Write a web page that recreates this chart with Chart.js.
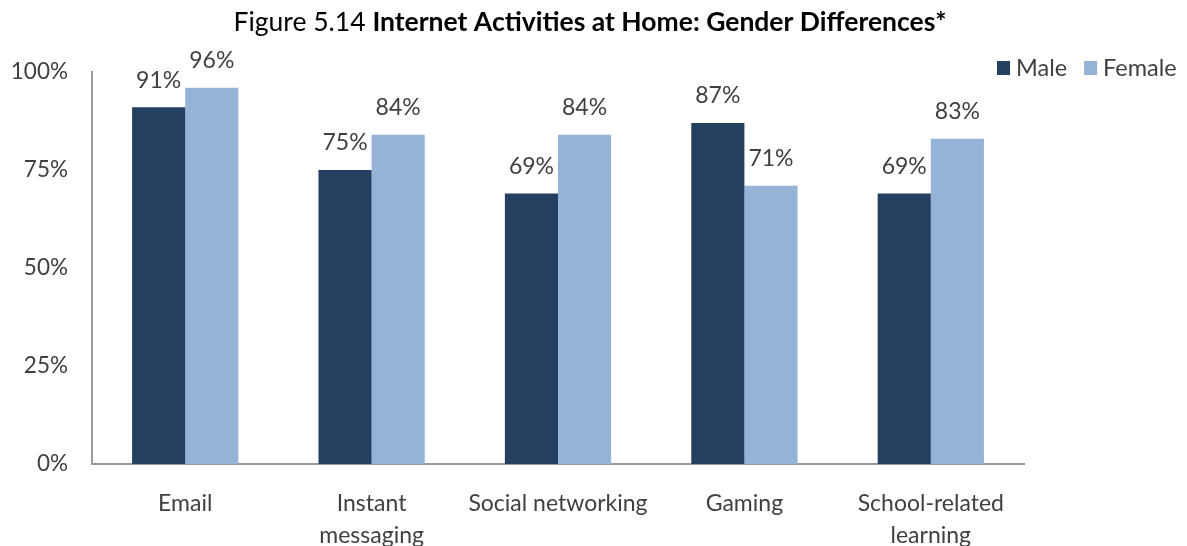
<!DOCTYPE html>
<html>
<head>
<meta charset="utf-8">
<script src="https://cdn.jsdelivr.net/npm/chart.js@4"></script>
<style>
  html, body { margin: 0; padding: 0; background: #fff; }
  #wrap { position: relative; width: 1187px; height: 546px; }
</style>
</head>
<body>
<div id="wrap"><canvas id="genderChart" width="1187" height="546"></canvas></div>
<script>
// Internet activities at home, split by gender (percent of respondents)
const activities = ['Email', ['Instant', 'messaging'], 'Social networking', 'Gaming', ['School-related', 'learning']];
const maleShare = [91, 75, 69, 87, 69];
const femaleShare = [96, 84, 84, 71, 83];
const yTicks = [0, 25, 50, 75, 100];

const FONT = 'Lato, "Open Sans", sans-serif';
const TEXT = '#404040';

// two-weight title: plain prefix, bold remainder
const titlePlugin = {
    id: 'splitTitle',
    afterDraw(chart) {
        const {ctx} = chart;
        const plain = 'Figure 5.14 ';
        const bold = 'Internet Activities at Home: Gender Differences*';
        ctx.save();
        ctx.fillStyle = '#000';
        ctx.textBaseline = 'middle';
        ctx.font = `26.5px ${FONT}`;
        const w1 = ctx.measureText(plain).width;
        ctx.font = `bold 26.5px ${FONT}`;
        const w2 = ctx.measureText(bold).width;
        const x0 = 590 - (w1 + w2) / 2;
        ctx.font = `26.5px ${FONT}`;
        ctx.fillText(plain, x0, 22);
        ctx.font = `bold 26.5px ${FONT}`;
        ctx.fillText(bold, x0 + w1, 22);
        ctx.restore();
    }
};

// value labels above each bar
const valueLabels = {
    id: 'valueLabels',
    afterDatasetsDraw(chart) {
        const {ctx} = chart;
        ctx.save();
        ctx.font = `23px ${FONT}`;
        ctx.fillStyle = TEXT;
        ctx.textAlign = 'center';
        ctx.textBaseline = 'middle';
        chart.data.datasets.forEach((ds, i) => {
            chart.getDatasetMeta(i).data.forEach((bar, j) => {
                ctx.fillText(ds.data[j] + '%', bar.x, bar.y - 27);
            });
        });
        ctx.restore();
    }
};

// small legend in the top-right corner
const cornerLegend = {
    id: 'cornerLegend',
    afterDraw(chart) {
        const {ctx} = chart;
        ctx.save();
        ctx.font = `23.5px ${FONT}`;
        ctx.textBaseline = 'middle';
        let x = 997;
        const y = 68;
        chart.data.datasets.forEach(ds => {
            ctx.fillStyle = ds.backgroundColor;
            ctx.fillRect(x, y - 7, 13, 14);
            ctx.fillStyle = TEXT;
            ctx.fillText(ds.label, x + 19, y);
            x += 19 + ctx.measureText(ds.label).width + 17;
        });
        ctx.restore();
    }
};

new Chart(document.getElementById('genderChart'), {
    type: 'bar',
    data: {
        labels: activities,
        datasets: [
            { label: 'Male', data: maleShare, backgroundColor: '#243F60', categoryPercentage: 0.57, barPercentage: 1 },
            { label: 'Female', data: femaleShare, backgroundColor: '#95B3D7', categoryPercentage: 0.57, barPercentage: 1 }
        ]
    },
    options: {
        responsive: false,
        animation: false,
        layout: { padding: { top: 72, right: 163, left: 0, bottom: 0 } },
        plugins: { legend: { display: false }, title: { display: false }, tooltip: { enabled: false } },
        scales: {
            x: {
                grid: { display: false, drawTicks: false },
                border: { color: '#9a9a9a', width: 2 },
                ticks: { font: { size: 23, family: FONT, lineHeight: 1.4 }, color: TEXT, padding: 23, maxRotation: 0, autoSkip: false },
                afterFit: s => { s.height = 82; }
            },
            y: {
                min: 0,
                max: 100,
                afterBuildTicks: s => { s.ticks = yTicks.map(v => ({ value: v })); },
                grid: { display: false, drawTicks: false },
                border: { color: '#9a9a9a', width: 2 },
                ticks: { font: { size: 22.5, family: FONT }, color: TEXT, padding: 24, callback: v => v + '%' },
                afterFit: s => { s.width = 92; }
            }
        }
    },
    plugins: [titlePlugin, valueLabels, cornerLegend]
});
</script>
</body>
</html>
